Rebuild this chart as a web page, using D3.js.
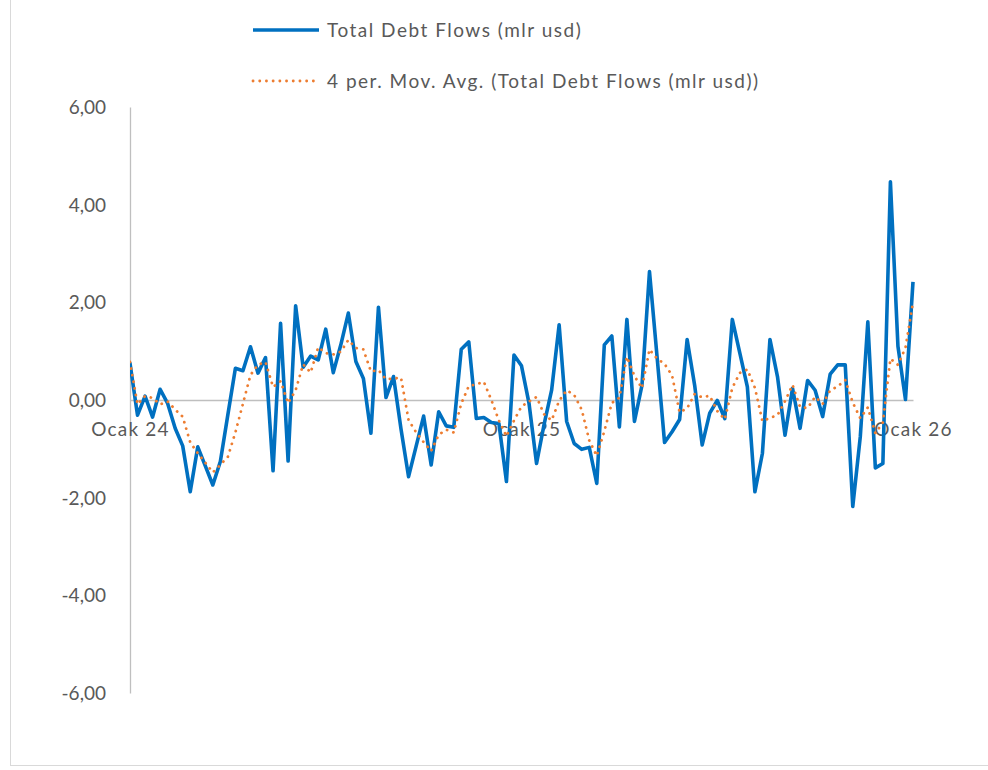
<!DOCTYPE html>
<html>
<head>
<meta charset="utf-8">
<script src="https://cdn.jsdelivr.net/npm/d3@7"></script>
<style>
  html, body { margin: 0; padding: 0; background: #ffffff; }
  svg { display: block; }
  text { font-family: Lato, "Open Sans", sans-serif; fill: #595959; }
</style>
</head>
<body>
<svg id="chart" width="988" height="770"></svg>
<script>
// Weekly total debt flows (billion USD); the last weeks of Dec 2023 feed the
// 4-period moving average but sit left of the plotted range.
const priorWeeks = [3.17, -0.60, -0.20];
const debtFlows = [
  0.75, -0.31, 0.08, -0.35, 0.22, -0.07, -0.58, -0.94, -1.88, -0.96,
  -1.35, -1.74, -1.26, -0.30, 0.65, 0.60, 1.09, 0.55, 0.87, -1.45,
  1.57, -1.25, 1.93, 0.67, 0.90, 0.82, 1.45, 0.56, 1.13, 1.78,
  0.79, 0.44, -0.68, 1.90, 0.05, 0.48, -0.60, -1.57, -0.95, -0.33,
  -1.33, -0.24, -0.53, -0.56, 1.04, 1.19, -0.38, -0.36, -0.46, -0.48,
  -1.67, 0.92, 0.70, -0.07, -1.30, -0.50, 0.20, 1.54, -0.44, -0.89,
  -1.01, -0.97, -1.71, 1.13, 1.31, -0.55, 1.65, -0.44, 0.30, 2.63,
  0.90, -0.87, -0.65, -0.40, 1.24, 0.30, -0.92, -0.27, -0.01, -0.38,
  1.65, 0.96, 0.27, -1.88, -1.09, 1.24, 0.48, -0.72, 0.24, -0.58,
  0.40, 0.20, -0.34, 0.53, 0.72, 0.72, -2.18, -0.75, 1.60, -1.39,
  -1.30, 4.47, 1.10, 0.01, 2.42
];
const xTickWeeks = [0, 52, 104];
const xTickLabels = ["Ocak 24", "Ocak 25", "Ocak 26"];
const yTicks = [-6, -4, -2, 0, 2, 4, 6];
const seriesNames = ["Total Debt Flows (mlr usd)", "4 per. Mov. Avg. (Total Debt Flows (mlr usd))"];
const maPeriod = 4;

const blue = "#0070C0";
const orange = "#ED7D31";
const axisGrey = "#BFBFBF";
const fontSize = "19px";

const svg = d3.select("#chart");

// chart area border
svg.append("rect")
  .attr("x", 10.5).attr("y", -5)
  .attr("width", 990).attr("height", 770.5)
  .attr("fill", "none").attr("stroke", "#D9D9D9").attr("stroke-width", 1);

const x = d3.scaleLinear().domain([0, 104]).range([130, 913]);
const y = d3.scaleLinear().domain([-6, 6]).range([693, 107]);

// full series with its week index (negative = before the axis start)
const all = priorWeeks.concat(debtFlows).map((v, i) => ({ week: i - priorWeeks.length, value: v }));
const moving = all.slice(maPeriod - 1).map((d, k) => ({
  week: d.week,
  value: d3.mean(all.slice(k, k + maPeriod), p => p.value)
}));

svg.append("defs").append("clipPath").attr("id", "plotClip")
  .append("rect").attr("x", 130).attr("y", 0).attr("width", 800).attr("height", 770);

// value axis
const yAxis = d3.axisLeft(y).tickValues(yTicks).tickSize(0).tickPadding(0)
  .tickFormat(d => d3.format(".2f")(d).replace(".", ",").replace("\u2212", "-"));
const gy = svg.append("g").attr("transform", "translate(130,0)").call(yAxis);
gy.select(".domain").attr("stroke", axisGrey).attr("stroke-width", 1.3);
gy.selectAll("text")
  .attr("x", -24).attr("dy", "0.35em")
  .style("font-size", fontSize).style("fill", "#595959");

// category axis through zero
const xAxis = d3.axisBottom(x).tickValues(xTickWeeks).tickSize(0)
  .tickFormat((d, i) => xTickLabels[i]);
const gx = svg.append("g").attr("transform", `translate(0,${y(0)})`).call(xAxis);
gx.select(".domain").attr("stroke", axisGrey).attr("stroke-width", 1.3);
gx.selectAll("text")
  .attr("y", 23).attr("dy", "0.71em")
  .style("font-size", fontSize).style("letter-spacing", "1.2px").style("fill", "#595959");

const line = d3.line().x(d => x(d.week)).y(d => y(d.value));
const plot = svg.append("g").attr("clip-path", "url(#plotClip)");

plot.append("path").datum(all)
  .attr("d", line)
  .attr("fill", "none").attr("stroke", blue)
  .attr("stroke-width", 3.6).attr("stroke-linejoin", "round");

plot.append("path").datum(moving)
  .attr("d", line)
  .attr("fill", "none").attr("stroke", orange)
  .attr("stroke-width", 2.8).attr("stroke-linecap", "round")
  .attr("stroke-dasharray", "0.1 6.6");

// legend
const legend = svg.append("g");
const items = [
  { name: seriesNames[0], color: blue, width: 3.6, dash: null, cy: 30 },
  { name: seriesNames[1], color: orange, width: 2.8, dash: "0.1 6.6", cy: 81 }
];
items.forEach(it => {
  legend.append("line")
    .attr("x1", 253).attr("x2", 319).attr("y1", it.cy).attr("y2", it.cy)
    .attr("stroke", it.color).attr("stroke-width", it.width)
    .attr("stroke-linecap", it.dash ? "round" : "butt")
    .attr("stroke-dasharray", it.dash);
  legend.append("text")
    .attr("x", 327).attr("y", it.cy).attr("dy", "0.35em")
    .style("font-size", fontSize).style("letter-spacing", "1.5px")
    .text(it.name);
});
</script>
</body>
</html>
